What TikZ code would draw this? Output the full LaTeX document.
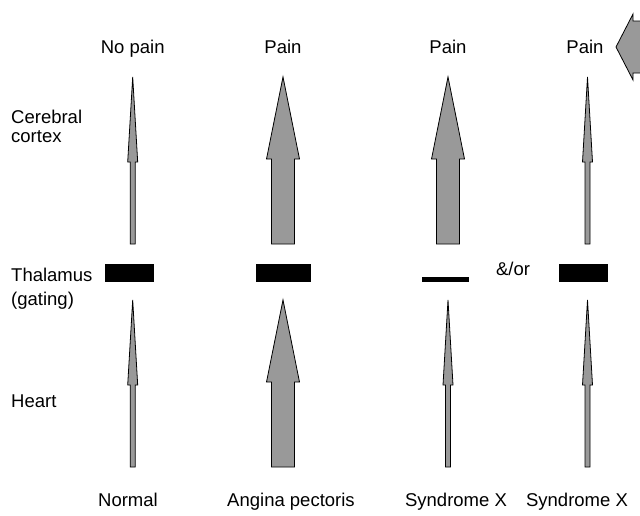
\documentclass[tikz,border=0pt]{standalone}
\usepackage{fontspec}
\setmainfont{Liberation Sans}
\definecolor{arrgray}{RGB}{153,153,153}
\tikzset{
  arr/.style={draw=black, fill=arrgray, line width=0.8pt, line join=miter},
  bar/.style={fill=black, draw=none},
  lbl/.style={font=\fontsize{18.5}{22}\selectfont, inner sep=0pt, anchor=base},
  lbll/.style={font=\fontsize{18.5}{22}\selectfont, inner sep=0pt, anchor=base west}
}
% x, tip y, head base y, bottom y, head half width, shaft half width
\newcommand\uparw[6]{%
  \draw[arr] (#1,#2) -- (#1+#5,#3) -- (#1+#6,#3) -- (#1+#6,#4) -- (#1-#6,#4) -- (#1-#6,#3) -- (#1-#5,#3) -- cycle;}
\begin{document}
\begin{tikzpicture}[x=1pt,y=-1pt]
\useasboundingbox (0,0) rectangle (640,515);
% top labels
\node[lbl] (t1) at (132.7,53) {No pain};
\node[lbl] (t2) at (283,53) {Pain};
\node[lbl] (t3) at (448,53) {Pain};
\node[lbl] (t4) at (585,53) {Pain};
% left labels
\node[lbll] (l1) at (11,123) {Cerebral};
\node[lbll] (l2) at (11,142) {cortex};
\node[lbll] (l3) at (11,281) {Thalamus};
\node[lbll] (l4) at (11,305) {(gating)};
\node[lbll] (l5) at (11,407) {Heart};
% bottom labels
\node[lbl] (b1) at (128,506) {Normal};
\node[lbl] (b2) at (291,506) {Angina pectoris};
\node[lbl] (b3) at (456,506) {Syndrome X};
\node[lbl] (b4) at (577,506) {Syndrome X};
\node[lbl] (andor) at (513,275) {\&/or};
% thalamus bars
\fill[bar] (105,264) rectangle (154,282);
\fill[bar] (256,264) rectangle (311,282);
\fill[bar] (422,277) rectangle (469,282);
\fill[bar] (559,264) rectangle (608,282);
% upper arrows
\uparw{132.7}{77}{162}{244}{5}{2.5}
\uparw{283}{77}{159}{244}{16.5}{11.5}
\uparw{448}{77}{159}{244}{16.5}{11.5}
\uparw{587.5}{77}{162}{244}{5}{2.5}
% lower arrows
\uparw{132.7}{300}{385}{467}{5}{2.5}
\uparw{283}{300}{382}{467}{16.5}{11.5}
\uparw{448}{300}{385}{467}{5}{2.5}
\uparw{587.5}{300}{385}{467}{5}{2.5}
% big left-pointing arrow at top right
\draw[arr] (616,47) -- (633,14) -- (633,21) -- (650,21) -- (650,73) -- (633,73) -- (633,80) -- cycle;
\end{tikzpicture}
\end{document}
